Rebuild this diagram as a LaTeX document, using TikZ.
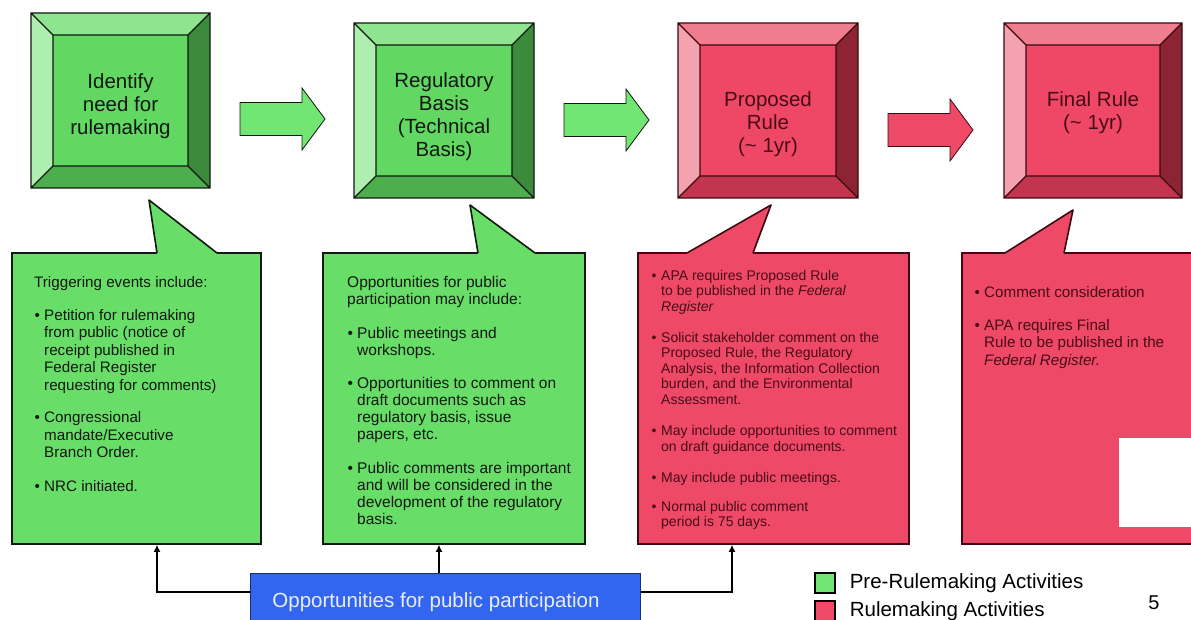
\documentclass[tikz,border=0pt]{standalone}
\usepackage{fontspec}
\setmainfont{Liberation Sans}
\usetikzlibrary{arrows.meta}
\definecolor{preF}{HTML}{62D862}
\definecolor{preT}{HTML}{8FE48F}
\definecolor{preL}{HTML}{AEEEAE}
\definecolor{preR}{HTML}{3C8A3C}
\definecolor{preB}{HTML}{4DAE4D}
\definecolor{preN}{HTML}{68DE68}
\definecolor{preA}{HTML}{72E672}
\definecolor{preK}{HTML}{101810}
\definecolor{preX}{HTML}{101810}
\definecolor{rulF}{HTML}{EE4866}
\definecolor{rulT}{HTML}{F07C90}
\definecolor{rulL}{HTML}{F5A2B0}
\definecolor{rulR}{HTML}{8C2434}
\definecolor{rulB}{HTML}{C3354F}
\definecolor{rulN}{HTML}{EE4A67}
\definecolor{rulA}{HTML}{EE4A67}
\definecolor{rulK}{HTML}{3A0A10}
\definecolor{rulX}{HTML}{4A0A16}
\definecolor{oppblue}{HTML}{3366F0}
\newcommand{\bul}{\makebox[10pt][l]{\hspace*{0.5pt}\textbullet}}
\newcommand{\cont}{\hspace*{10pt}}

\begin{document}
\begin{tikzpicture}[x=1pt,y=-1pt,
  note/.style={anchor=north west,align=left,inner sep=0pt},
  balloon/.style={draw=#1K,fill=#1N,line width=1.6pt,inner sep=0pt},
  link/.style={line width=2.4pt,-{Latex[length=7pt,width=7pt]}}]
  \clip (0,0) rectangle (1191,620);
  \fill[white] (0,0) rectangle (1191,620);
  % the four steps as bevelled blocks
  \foreach \id/\xa/\ya/\xb/\yb/\c/\ty/\txt in {
      idn/31/13/210/188/pre/106/{Identify\\need for\\rulemaking},
      rb/354/23/534/198/pre/117/{Regulatory\\Basis\\(Technical\\Basis)},
      pr/678/23/858/198/rul/124/{Proposed\\Rule\\(\textasciitilde{} 1yr)},
      fr/1004/23/1182/198/rul/113/{Final Rule\\(\textasciitilde{} 1yr)}}{
    \fill[fill=\c T] (\xa,\ya) -- (\xb,\ya) -- (\xb-22,\ya+22) -- (\xa+22,\ya+22) -- cycle;
    \fill[fill=\c R] (\xb,\ya) -- (\xb,\yb) -- (\xb-22,\yb-22) -- (\xb-22,\ya+22) -- cycle;
    \fill[fill=\c B] (\xb,\yb) -- (\xa,\yb) -- (\xa+22,\yb-22) -- (\xb-22,\yb-22) -- cycle;
    \fill[fill=\c L] (\xa,\yb) -- (\xa,\ya) -- (\xa+22,\ya+22) -- (\xa+22,\yb-22) -- cycle;
    \fill[fill=\c F] (\xa+22,\ya+22) rectangle (\xb-22,\yb-22);
    \draw[draw=\c K,line width=1.2pt] (\xa,\ya) rectangle (\xb,\yb) (\xa+22,\ya+22) rectangle (\xb-22,\yb-22)
      (\xa,\ya) -- ++(22,22) (\xb,\ya) -- ++(-22,22) (\xb,\yb) -- ++(-22,-22) (\xa,\yb) -- ++(22,-22);
    \node[align=center,text=\c X,font=\fontsize{20.5}{23}\selectfont] (\id) at ({(\xa+\xb)/2},\ty) {\txt};
  }
  \foreach \x/\y/\c in {240/119/pre,564/120/pre,888/130/rul}
    \filldraw[fill=\c A,draw=\c K,line width=0.8pt] (\x,\y-16.5) -- (\x+62,\y-16.5) -- (\x+62,\y-31)
      -- (\x+85,\y) -- (\x+62,\y+31) -- (\x+62,\y+16.5) -- (\x,\y+16.5) -- cycle;

  % speech balloons under the steps
  \node[balloon=pre,minimum width=249pt,minimum height=291pt] (c1) at (136.5,398.5) {};
  \node[balloon=pre,minimum width=262pt,minimum height=291pt] (c2) at (454,398.5) {};
  \node[balloon=rul,minimum width=271pt,minimum height=291pt] (c3) at (773.5,398.5) {};
  \node[balloon=rul,minimum width=238pt,minimum height=291pt] (c4) at (1081,398.5) {};
  \foreach \bl/\tx/\tp/\br/\c in {157/149/200/217/pre,478/470/205/535/pre,687/771/205/753/rul,1005/1073/210/1064/rul}{
    \fill[fill=\c N] (\bl,255) -- (\bl,253) -- (\tx,\tp) -- (\br,253) -- (\br,255) -- cycle;
    \draw[draw=\c K,line width=1.6pt,line join=round] (\bl,253) -- (\tx,\tp) -- (\br,253);
  }
  \node[note,text=preX,font=\fontsize{15.2}{17.5}\selectfont] (n1) at (34,276) {Triggering events include:\\[15.5pt]%
    \bul Petition for rulemaking\\\cont from public (notice of\\\cont receipt published in\\\cont Federal Register\\\cont requesting for comments)\\[15pt]%
    \bul Congressional\\\cont mandate/Executive\\\cont Branch Order.\\[16pt]%
    \bul NRC initiated.};
  \node[note,text=preX,font=\fontsize{15.5}{17}\selectfont] (n2) at (347,276) {Opportunities for public\\participation may include:\\[17pt]%
    \bul Public meetings and\\\cont workshops.\\[16pt]%
    \bul Opportunities to comment on\\\cont draft documents such as\\\cont regulatory basis, issue\\\cont papers, etc.\\[17pt]%
    \bul Public comments are important\\\cont and will be considered in the\\\cont development of the regulatory\\\cont basis.};
  \node[note,text=rulX,font=\fontsize{14}{15.5}\selectfont] (n3) at (651,270) {\bul APA requires Proposed Rule\\\cont to be published in the \textit{Federal}\\\cont \textit{Register}\\[15.5pt]%
    \bul Solicit stakeholder comment on the\\\cont Proposed Rule, the Regulatory\\\cont Analysis, the Information Collection\\\cont burden, and the Environmental\\\cont Assessment.\\[16pt]%
    \bul May include opportunities to comment\\\cont on draft guidance documents.\\[15.5pt]%
    \bul May include public meetings.\\[13.5pt]%
    \bul Normal public comment\\\cont period is 75 days.};
  \node[note,text=rulX,font=\fontsize{15.2}{17.5}\selectfont] (n4) at (974,286) {\bul Comment consideration\\[15.5pt]%
    \bul APA requires Final\\\cont Rule to be published in the\\\cont \textit{Federal Register.}};
  \fill[white] (1119,438) rectangle (1200,527);

  % public participation feeds the first three balloons
  \node[fill=oppblue,draw=oppblue!45!black,line width=1pt,minimum width=390pt,minimum height=58pt,
    text=white!88!oppblue,font=\fontsize{20.5}{24}\selectfont] (opp) at (445,602) {Opportunities for public participation\hspace*{18pt}};
  \draw[link] ([yshift=10pt]opp.west) -| ([xshift=20.5pt]c1.south);
  \draw[link] ([xshift=-6pt]opp.north) -- ([xshift=-15pt]c2.south);
  \draw[link] ([yshift=10pt]opp.east) -| ([xshift=-41.5pt]c3.south);

  \node[draw=black,line width=1.2pt,fill=preA,minimum size=20pt,inner sep=0pt] (kpre) at (825,583) {};
  \node[draw=black,line width=1.2pt,fill=rulA,minimum size=20pt,inner sep=0pt] (krul) at (825,611) {};
  \node[anchor=west,inner sep=0pt,font=\fontsize{20.5}{24}\selectfont] (lpre) at ([xshift=14pt]kpre.east) {Pre-Rulemaking Activities};
  \node[anchor=west,inner sep=0pt,font=\fontsize{20.5}{24}\selectfont] (lrul) at ([xshift=14pt]krul.east) {Rulemaking Activities};
  \node[font=\fontsize{20}{24}\selectfont] (pg) at (1154,603) {5};
\end{tikzpicture}
\end{document}
